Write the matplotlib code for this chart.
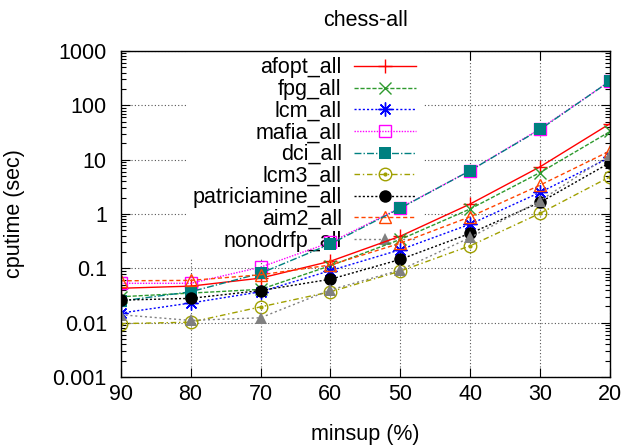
import matplotlib
matplotlib.use("Agg")
import matplotlib.pyplot as plt
from matplotlib.ticker import LogLocator, FixedLocator, FuncFormatter, NullFormatter

plt.rcParams['font.family'] = ['Liberation Sans', 'DejaVu Sans']
FS = 15.5

# minimum support (%) and run time (sec) per miner, dataset chess
minsup = [90, 80, 70, 60, 50, 40, 30, 20]

afopt_all = [0.043, 0.047, 0.066, 0.135, 0.39, 1.53, 7.4, 46]
fpg_all = [0.030, 0.035, 0.041, 0.112, 0.34, 1.24, 5.8, 33]
lcm_all = [0.015, 0.023, 0.037, 0.091, 0.22, 0.65, 2.5, 11]
mafia_all = [0.053, 0.053, 0.105, 0.30, 1.3, 6.3, 37, 280]
dci_all = [0.025, 0.037, 0.081, 0.28, 1.28, 6.3, 36, 280]
lcm3_all = [0.0096, 0.0102, 0.0195, 0.037, 0.089, 0.26, 1.03, 4.85]
patriciamine_all = [0.026, 0.028, 0.039, 0.063, 0.146, 0.44, 1.64, 8.8]
aim2_all = [0.059, 0.060, 0.076, 0.115, 0.29, 0.89, 3.4, 14.5]
nonodrfp_all = [0.014, 0.011, 0.0123, 0.040, 0.093, 0.37, 1.76, 12.2]

series = [
    ("afopt_all", afopt_all, dict(color="#ff0000", ls="-", marker="+", ms=10, mew=1.0)),
    ("fpg_all", fpg_all, dict(color="#2e9a2e", ls=(0, (3, 1.3)), marker="x", ms=8, mew=1.0)),
    ("lcm_all", lcm_all, dict(color="#0000ff", ls=(0, (1.5, 1.5)), marker=(8, 2, 0), ms=10, mew=1.0)),
    ("mafia_all", mafia_all, dict(color="#ff00ff", ls=(0, (1, 1)), marker="s", ms=8,
                                  mfc="none", mew=1.0)),
    ("dci_all", dci_all, dict(color="#008080", ls=(0, (5, 1.5, 1, 1.5)), marker="s", ms=8, mew=0)),
    ("lcm3_all", lcm3_all, dict(color="#a0a000", ls=(0, (4, 2, 1, 2)), marker="o", ms=9,
                                mfc="none", mew=1.0)),
    ("patriciamine_all", patriciamine_all, dict(color="#000000", ls=(0, (1.5, 1.5)), marker="o",
                                                ms=9, mew=0)),
    ("aim2_all", aim2_all, dict(color="#ff4500", ls=(0, (3, 2)), marker="^", ms=9,
                                mfc="none", mew=1.0)),
    ("nonodrfp_all", nonodrfp_all, dict(color="#808080", ls=(0, (1.5, 2)), marker="^", ms=9, mew=0)),
]

fig = plt.figure(figsize=(6.29, 4.47), dpi=100)
ax = fig.add_axes([0.1919, 0.1566, 0.7779, 0.7293])

handles = []
labels = []
for name, vals, st in series:
    line, = ax.plot(minsup, vals, lw=1.0, zorder=2, **st)
    h = line
    if name == "lcm3_all":
        # dot in the middle of the open circle
        dot, = ax.plot(minsup, vals, ls="none", marker="o", ms=2, color=st["color"], zorder=2)
        h = (line, dot)
    handles.append(h)
    labels.append(name)

ax.set_yscale("log")
ax.set_ylim(0.001, 1000)
ax.set_xlim(90, 20)

ax.xaxis.set_major_locator(FixedLocator(minsup))
ax.yaxis.set_major_locator(LogLocator(base=10, numticks=10))
ax.yaxis.set_minor_locator(LogLocator(base=10, subs=range(2, 10), numticks=20))
ax.yaxis.set_minor_formatter(NullFormatter())
ax.yaxis.set_major_formatter(FuncFormatter(lambda v, p: "%g" % v))

ax.tick_params(which="both", direction="in", top=True, right=True, labelsize=FS)
ax.tick_params(which="major", length=6.5, width=0.8)
ax.tick_params(which="minor", length=3.5, width=0.8)
ax.tick_params(axis="y", pad=10)
ax.tick_params(axis="x", pad=5)

ax.set_axisbelow(True)
ax.grid(True, which="major", ls=(0, (1, 2)), color="#555555", lw=0.8)
for sp in ax.spines.values():
    sp.set_linewidth(1.0)

ax.set_title("chess-all", fontsize=FS, pad=18)
ax.set_xlabel("minsup (%)", fontsize=FS)
ax.set_ylabel("cputime (sec)", fontsize=FS)
ax.xaxis.set_label_coords(0.5, -0.145)
ax.yaxis.set_label_coords(-0.196, 0.5)

leg = ax.legend(handles, labels, loc="upper right", bbox_to_anchor=(0.617, 1.0),
                markerfirst=False, frameon=True, fancybox=False, edgecolor="none",
                facecolor="white", framealpha=1, handlelength=2.9, handletextpad=0.55,
                labelspacing=0.03, borderpad=0.3, borderaxespad=0, fontsize=FS)
# right-justify the key entries
for col in leg._legend_handle_box.get_children():
    col.align = "right"
leg.set_zorder(1.5)

fig.savefig("out.png", dpi=100)
